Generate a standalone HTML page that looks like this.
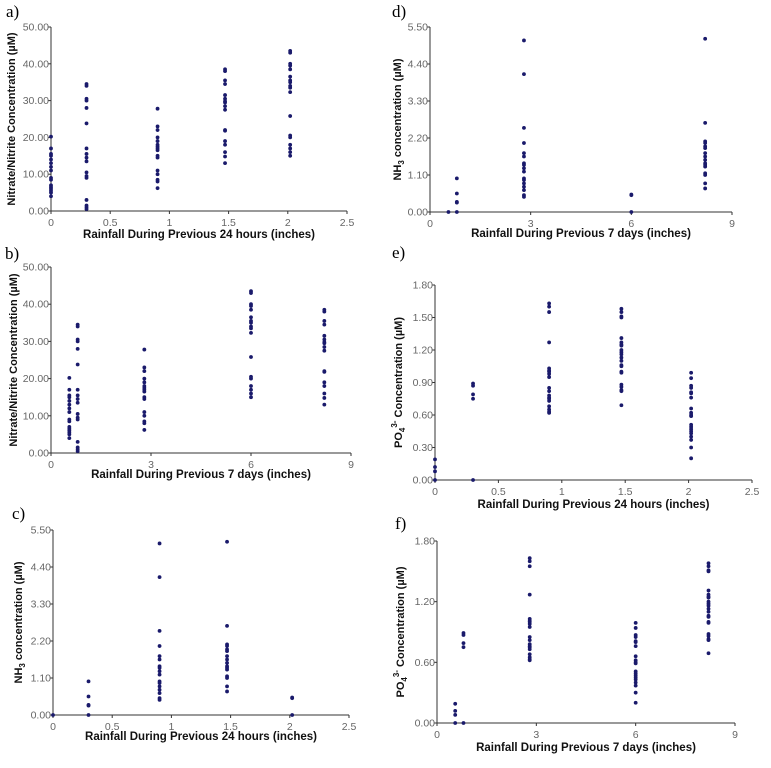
<!DOCTYPE html>
<html><head><meta charset="utf-8"><style>
body{margin:0;background:#fff;width:771px;height:763px;overflow:hidden}
svg text{font-family:"Liberation Sans",sans-serif}
</style></head><body>
<svg id="s" width="771" height="763"></svg>
<script>
// Shared data (µM). Groups by rainfall event.
const rain24 = [0, 0.3, 0.9, 1.47, 2.02];
const rain7 = [0.55, 0.8, 2.8, 8.2, 6.0];
const nitrate0 = [20.2,17,15.5,15,14,13,12,11,9,8.5,7,6.5,6,5.5,5,4];
const nitrate1 = [34.5,34,30.5,30,28,23.8,17,15.5,14.5,13.5,10.5,9.5,9,3,1.5,1,0.5];
const nitrate2 = [27.8,23,22,20,19,18,17.5,17,16.5,15,14.5,11,10,8.5,8,6.2];
const nitrate3 = [38.5,38,35.5,34.5,31.5,30.5,29.8,29.5,28.5,27.5,22,21.8,19,18,16,14.8,13];
const nitrate4 = [43.5,43,40,39.5,38.5,36.5,35.5,35,34,33.5,32.3,25.8,20.5,20,18,17,16,15];
const nh3_0 = [0];
const nh3_1 = [1.0,0.55,0.3,0.28,0];
const nh3_2 = [5.1,4.1,2.5,2.05,1.75,1.65,1.45,1.4,1.3,1.2,1.0,0.95,0.85,0.75,0.65,0.5,0.45];
const nh3_3 = [5.15,2.65,2.1,2.05,1.95,1.9,1.75,1.65,1.55,1.45,1.4,1.35,1.15,1.1,0.85,0.7];
const nh3_4 = [0.52,0.5,0];
const po4_0 = [0.19,0.12,0.08,0];
const po4_1 = [0.89,0.87,0.79,0.75,0];
const po4_2 = [1.63,1.6,1.55,1.27,1.03,1.01,1.0,0.98,0.95,0.85,0.82,0.78,0.76,0.75,0.73,0.68,0.65,0.63,0.62];
const po4_3 = [1.58,1.55,1.51,1.5,1.31,1.27,1.25,1.24,1.2,1.18,1.16,1.13,1.1,1.06,1.05,1.0,0.99,0.88,0.86,0.83,0.82,0.69];
const po4_4 = [0.99,0.94,0.87,0.85,0.81,0.8,0.76,0.66,0.62,0.6,0.59,0.51,0.49,0.47,0.45,0.43,0.4,0.37,0.3,0.2];
const ticks24 = [0,0.5,1,1.5,2,2.5];
const ticks7 = [0,3,6,9];
const ticksN = [0,10,20,30,40,50];
const ticksNH = [0,1.1,2.2,3.3,4.4,5.5];
const ticksPe = [0,0.3,0.6,0.9,1.2,1.5,1.8];
const ticksPf = [0,0.6,1.2,1.8];
const nitrateSets=[nitrate0,nitrate1,nitrate2,nitrate3,nitrate4];
const nh3Sets=[nh3_0,nh3_1,nh3_2,nh3_3,nh3_4];
const po4Sets=[po4_0,po4_1,po4_2,po4_3,po4_4];

const NS="http://www.w3.org/2000/svg", S=document.getElementById('s');
function mk(t,a,p){const e=document.createElementNS(NS,t);for(const k in a)e.setAttribute(k,a[k]);(p||S).appendChild(e);return e;}

const panels=[
 {id:'a',L:51,R:347,B:211,T:27,xt:ticks24,yt:ticksN,xs:rain24,sets:nitrateSets,lab:[6,17],xtitle:'Rainfall During Previous 24 hours (inches)',xty:238,yk:'N',yx:15},
 {id:'b',L:51,R:351,B:453,T:267,xt:ticks7,yt:ticksN,xs:rain7,sets:nitrateSets,lab:[5,259],xtitle:'Rainfall During Previous 7 days (inches)',xty:478,yk:'N',yx:17},
 {id:'c',L:53,R:349,B:715,T:530,xt:ticks24,yt:ticksNH,xs:rain24,sets:nh3Sets,lab:[12,519],xtitle:'Rainfall During Previous 24 hours (inches)',xty:740,yk:'NH',yx:22},
 {id:'d',L:430,R:732,B:212,T:27,xt:ticks7,yt:ticksNH,xs:rain7,sets:nh3Sets,lab:[392,17],xtitle:'Rainfall During Previous 7 days (inches)',xty:237,yk:'NH',yx:401},
 {id:'e',L:435,R:752,B:480,T:285,xt:ticks24,yt:ticksPe,xs:rain24,sets:po4Sets,lab:[392,258],xtitle:'Rainfall During Previous 24 hours (inches)',xty:508,yk:'P',yx:402},
 {id:'f',L:437,R:735,B:723,T:541,xt:ticks7,yt:ticksPf,xs:rain7,sets:po4Sets,lab:[395,529],xtitle:'Rainfall During Previous 7 days (inches)',xty:751,yk:'P',yx:404}
];
panels.forEach(p=>{
 const g=mk('g',{});
 
 
 const xmax=p.xt[p.xt.length-1], ymax=p.yt[p.yt.length-1];
 const X=v=>p.L+(p.R-p.L)*v/xmax, Y=v=>p.B-(p.B-p.T)*v/ymax;
 const lab=mk('text',{x:p.lab[0],y:p.lab[1],'font-size':17,'style':'font-family:"Liberation Serif",serif'},g);lab.textContent=p.id+')';
 
 mk('line',{x1:p.L,y1:p.T,x2:p.L,y2:p.B,stroke:'#333','stroke-width':1},g);
 mk('line',{x1:p.L,y1:p.B,x2:p.R,y2:p.B,stroke:'#333','stroke-width':1},g);
 p.yt.forEach(v=>{
  mk('line',{x1:p.L-3,y1:Y(v),x2:p.L,y2:Y(v),stroke:'#333'},g);
  const t=mk('text',{x:p.L-2,y:Y(v)+3.5,'font-size':10.5,fill:'#666','text-anchor':'end'},g);t.textContent=v.toFixed(2);
  
 });
 p.xt.forEach(v=>{
  mk('line',{x1:X(v),y1:p.B,x2:X(v),y2:p.B+3,stroke:'#333'},g);
  const t=mk('text',{x:X(v),y:p.B+15,'font-size':10.5,fill:'#666','text-anchor':'middle'},g);t.textContent=v;
  
 });
 const xt=mk('text',{x:(p.L+p.R)/2,y:p.xty,'font-size':11.5,'font-weight':'bold','text-anchor':'middle',fill:'#111'},g);xt.textContent=p.xtitle;
 
 const yc=(p.T+p.B)/2;
 const yt=mk('text',{x:p.yx,y:yc,'font-size':11,'font-weight':'bold','text-anchor':'middle',fill:'#111',transform:`rotate(-90 ${p.yx} ${yc})`},g);
 
 if(p.yk==='N'){yt.textContent='Nitrate/Nitrite Concentration (µM)';}
 else if(p.yk==='NH'){yt.innerHTML='NH<tspan font-size="8" dy="3">3</tspan><tspan dy="-3"> concentration (µM)</tspan>';}
 else {yt.innerHTML='PO<tspan font-size="8" dy="3">4</tspan><tspan font-size="8" dy="-8">3-</tspan><tspan dy="5"> Concentration (µM)</tspan>';}
 p.sets.forEach((set,i)=>set.forEach(v=>{
  const c=mk('circle',{cx:X(p.xs[i]),cy:Y(v),r:1.9,fill:'#1a1a6b'},g);
  
  
 }));
});
</script>
</body></html>
